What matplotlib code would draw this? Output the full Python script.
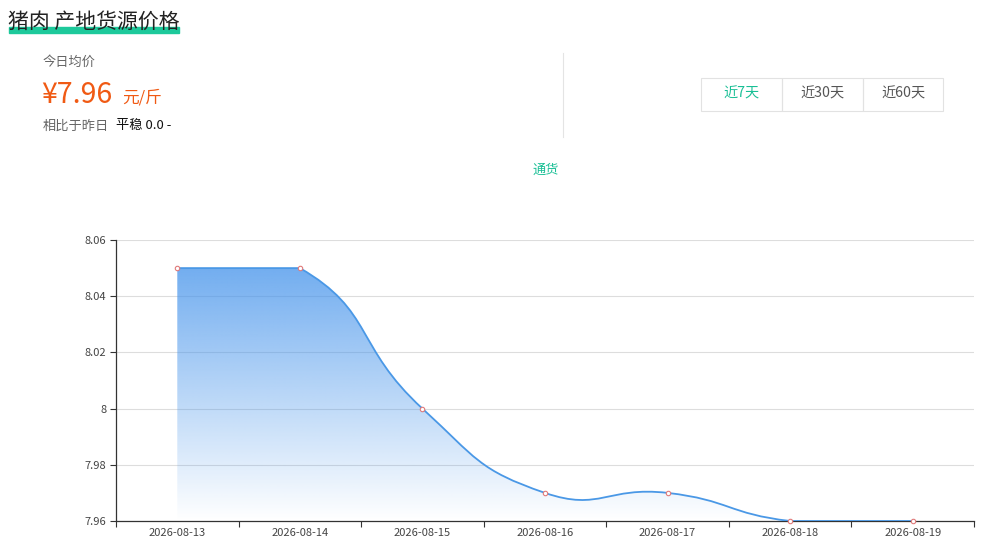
import numpy as np
import matplotlib
matplotlib.use("Agg")
import matplotlib.pyplot as plt
from matplotlib.path import Path
from matplotlib.patches import PathPatch, Rectangle
from matplotlib.lines import Line2D

plt.rcParams['font.family'] = ['Noto Sans CJK SC', 'DejaVu Sans']

dates = ["2026-08-13", "2026-08-14", "2026-08-15", "2026-08-16",
         "2026-08-17", "2026-08-18", "2026-08-19"]
prices = [8.05, 8.05, 8.00, 7.97, 7.97, 7.96, 7.96]
y_ticks = [7.96, 7.98, 8.00, 8.02, 8.04, 8.06]
y_labels = ["7.96", "7.98", "8", "8.02", "8.04", "8.06"]
ranges = ["近7天", "近30天", "近60天"]

title = "猪肉 产地货源价格"
today_price = "¥7.96"
unit = "元/斤"
series_name = "通货"

green = "#19bf95"
orange = "#f05a14"
line_blue = "#4a98e6"
W, H = 992, 556


def px(x, y):
    return x / W, 1 - y / H


def echarts_smooth(pts, smooth=0.5):
    # cubic bezier like echarts 4 smooth line (with bbox constraint)
    lo = pts.min(axis=0)
    hi = pts.max(axis=0)
    verts = [pts[0]]
    codes = [Path.MOVETO]
    cp0 = pts[0].copy()
    for i in range(1, len(pts)):
        p = pts[i]
        if i == len(pts) - 1:
            cp1 = p.copy()
            v = np.zeros(2)
            ratio = 0.5
        else:
            prev, nxt = pts[i - 1], pts[i + 1]
            v = nxt - prev
            d0 = np.hypot(*(p - prev))
            d1 = np.hypot(*(p - nxt))
            ratio = d1 / (d0 + d1)
            cp1 = p - v * smooth * (1 - ratio)
        cp0 = np.clip(cp0, lo, hi)
        cp1 = np.clip(cp1, lo, hi)
        verts += [cp0, cp1, p.copy()]
        codes += [Path.CURVE4] * 3
        cp0 = p + v * smooth * ratio
    return verts, codes


fig = plt.figure(figsize=(9.92, 5.56), dpi=100)

# header
fig.patches.append(Rectangle(px(9, 33), 170 / W, 6 / H, transform=fig.transFigure,
                             color="#1dc99b", zorder=0))
fig.text(*px(8, 28), title, fontsize=15, color="#222222", va="baseline", zorder=2)
fig.text(*px(43, 62), "今日均价", fontsize=9.5, color="#666666", va="center")
fig.text(*px(41, 95), today_price, fontsize=20.5, color=orange, va="center")
fig.text(*px(122, 98), unit, fontsize=12, color=orange, va="center")
fig.text(*px(43, 126), "相比于昨日", fontsize=9.5, color="#666666", va="center")
fig.text(*px(116, 126), "平稳 0.0 -", fontsize=9.5, color="#111111", va="center")
fig.lines.append(Line2D([563 / W, 563 / W], [1 - 53 / H, 1 - 137 / H],
                        transform=fig.transFigure, color="#e4e4e4", lw=0.8))

# range buttons
bx = [701, 782, 863, 943]
for i, lab in enumerate(ranges):
    fig.patches.append(Rectangle(px(bx[i], 111), (bx[i + 1] - bx[i]) / W, 33 / H,
                                 transform=fig.transFigure, fill=False,
                                 edgecolor="#e2e2e2", lw=0.8))
    fig.text(*px((bx[i] + bx[i + 1]) / 2, 94), lab, fontsize=10.2,
             color=green if i == 0 else "#555555", ha="center", va="center")

fig.text(*px(546, 170), series_name, fontsize=9.5, color=green, ha="center", va="center")

# chart
ax = fig.add_axes([116 / W, 1 - 521 / H, (974 - 116) / W, (521 - 240) / H])
x = np.arange(len(dates))
ax.set_xlim(-0.5, len(dates) - 0.5)
ax.set_ylim(y_ticks[0], y_ticks[-1])

ax.set_yticks(y_ticks)
ax.set_yticklabels(y_labels)
ax.set_xticks(np.arange(len(dates) + 1) - 0.5)
ax.set_xticklabels([])
ax.set_xticks(x, minor=True)
ax.set_xticklabels(dates, minor=True)
ax.tick_params(axis="x", which="major", length=4, color="#333333", direction="out")
ax.tick_params(axis="x", which="minor", length=0, labelsize=8, labelcolor="#444444", pad=5)
ax.tick_params(axis="y", length=4, color="#333333", labelsize=8, labelcolor="#444444", pad=3)
ax.grid(axis="y", color="#dddddd", lw=0.8, zorder=0)
ax.set_axisbelow(True)
for s in ["top", "right"]:
    ax.spines[s].set_visible(False)
for s in ["left", "bottom"]:
    ax.spines[s].set_color("#333333")
    ax.spines[s].set_linewidth(0.9)

# smooth curve computed in pixel space
pts = ax.transData.transform(np.column_stack([x, prices]))
verts, codes = echarts_smooth(pts)
inv = ax.transData.inverted()
verts = inv.transform(np.array(verts))
line_path = Path(verts, codes)

area_verts = list(verts) + [(x[-1], y_ticks[0]), (x[0], y_ticks[0]), (x[0], prices[0])]
area_codes = list(codes) + [Path.LINETO, Path.LINETO, Path.CLOSEPOLY]
area_patch = PathPatch(Path(area_verts, area_codes), facecolor="none", edgecolor="none")
ax.add_patch(area_patch)

grad = np.zeros((256, 2, 4))
grad[..., 0] = 70 / 255
grad[..., 1] = 148 / 255
grad[..., 2] = 235 / 255
grad[..., 3] = np.linspace(0.76, 0.0, 256)[:, None]
img = ax.imshow(grad, extent=[x[0], x[-1], y_ticks[0], max(prices)], origin="upper",
                aspect="auto", zorder=1, interpolation="bilinear")
img.set_clip_path(area_patch)

ax.add_patch(PathPatch(line_path, facecolor="none", edgecolor=line_blue, lw=1.3, zorder=3))
ax.plot(x, prices, ls="none", marker="o", ms=3.2, mfc="white", mec="#e07a7a",
        mew=0.8, zorder=4, clip_on=False)

fig.savefig("out.png", dpi=100)
